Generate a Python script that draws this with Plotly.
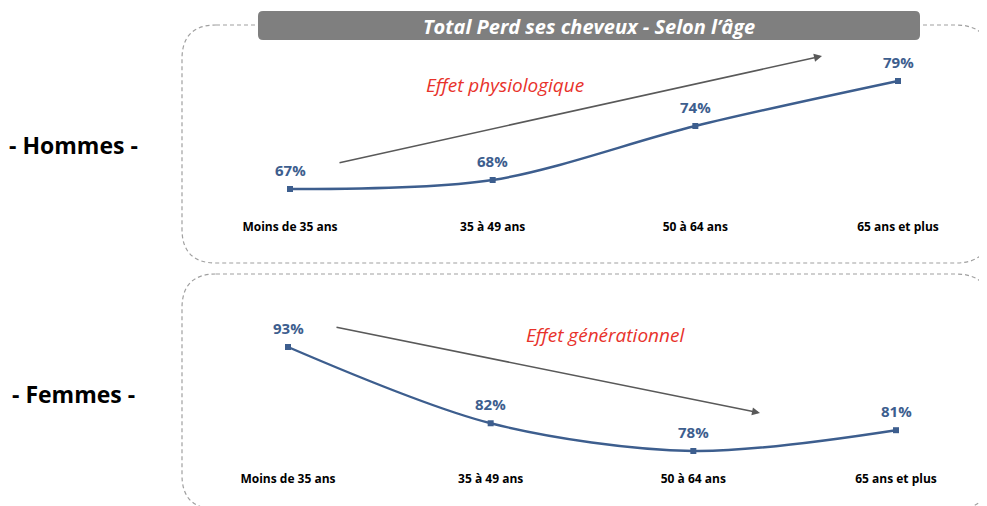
import plotly.graph_objects as go

# The page body adds an 8px offset, so the figure is sized to fit inside the window
OFF = 8
W, H = 987 - OFF, 506 - OFF

categories = ["Moins de 35 ans", "35 à 49 ans", "50 à 64 ans", "65 ans et plus"]
hommes = [67, 68, 74, 79]
femmes = [93, 82, 78, 81]
hommes_labels = ["67%", "68%", "74%", "79%"]
femmes_labels = ["93%", "82%", "78%", "81%"]

title_text = "Total Perd ses cheveux - Selon l’âge"
row_labels = ["- Hommes -", "- Femmes -"]
effect_labels = ["Effet physiologique", "Effet générationnel"]

BLUE = "#3D5E8E"
RED = "#E8322B"
DASH = "#A0A0A0"


def px(x):
    return (x - OFF) / W


def py(y):
    return 1 - (y - OFF) / H


def rounded_path(x0, y0, x1, y1, r):
    pts = [
        ("M", [(x0 + r, y0)]),
        ("L", [(x1 - r, y0)]),
        ("Q", [(x1, y0), (x1, y0 + r)]),
        ("L", [(x1, y1 - r)]),
        ("Q", [(x1, y1), (x1 - r, y1)]),
        ("L", [(x0 + r, y1)]),
        ("Q", [(x0, y1), (x0, y1 - r)]),
        ("L", [(x0, y0 + r)]),
        ("Q", [(x0, y0), (x0 + r, y0)]),
    ]
    s = ""
    for cmd, ps in pts:
        s += cmd + " " + " ".join(f"{px(a):.5f},{py(b):.5f}" for a, b in ps) + " "
    return s + "Z"


fig = go.Figure()

for xa, ya, vals in (("x", "y", hommes), ("x2", "y2", femmes)):
    fig.add_trace(go.Scatter(
        x=categories, y=vals, mode="lines+markers", xaxis=xa, yaxis=ya,
        line=dict(color=BLUE, width=2.4, shape="spline", smoothing=0.9),
        marker=dict(symbol="square", size=6, color=BLUE),
        hoverinfo="skip", showlegend=False, cliponaxis=False,
    ))

annotations = []
lab_font = dict(family="Open Sans", size=15, color=BLUE, weight="bold")
for c, v, t in zip(categories, hommes, hommes_labels):
    annotations.append(dict(x=c, y=v, xref="x", yref="y", text=t, showarrow=False,
                            xanchor="center", yanchor="middle", yshift=19, font=lab_font))
for c, v, t in zip(categories, femmes, femmes_labels):
    annotations.append(dict(x=c, y=v, xref="x2", yref="y2", text=t, showarrow=False,
                            xanchor="center", yanchor="middle", yshift=19, font=lab_font))


def paper_text(x, y, text, font):
    return dict(x=px(x), y=py(y), xref="paper", yref="paper", text=text, showarrow=False,
                xanchor="center", yanchor="middle", font=font)


annotations.append(paper_text(589, 26, title_text,
                              dict(family="Open Sans", size=20, color="white", weight="bold", style="italic")))
annotations.append(paper_text(73, 145, row_labels[0],
                              dict(family="Open Sans", size=23, color="black", weight="bold")))
annotations.append(paper_text(73, 394, row_labels[1],
                              dict(family="Open Sans", size=23, color="black", weight="bold")))
annotations.append(paper_text(505, 85, effect_labels[0],
                              dict(family="Open Sans", size=19, color=RED, style="italic")))
annotations.append(paper_text(605, 335, effect_labels[1],
                              dict(family="Open Sans", size=19, color=RED, style="italic")))

# trend arrows
annotations.append(dict(x=px(822), y=py(56), xref="paper", yref="paper", ax=338 - 822, ay=163 - 56,
                        text="", showarrow=True, arrowhead=2, arrowsize=1, arrowwidth=1.6,
                        arrowcolor="#595959"))
annotations.append(dict(x=px(760), y=py(413), xref="paper", yref="paper", ax=335 - 760, ay=327 - 413,
                        text="", showarrow=True, arrowhead=2, arrowsize=1, arrowwidth=1.6,
                        arrowcolor="#595959"))

shapes = [
    dict(type="path", xref="paper", yref="paper", path=rounded_path(182, 25, 990, 263, 34),
         line=dict(color=DASH, width=1.2, dash="4px,3px"), layer="below"),
    dict(type="path", xref="paper", yref="paper", path=rounded_path(182, 274, 990, 509, 34),
         line=dict(color=DASH, width=1.2, dash="4px,3px"), layer="below"),
    dict(type="path", xref="paper", yref="paper", path=rounded_path(258, 11, 920, 40, 5),
         line=dict(width=0), fillcolor="#7F7F7F", layer="below"),
]

axis_common = dict(showgrid=False, zeroline=False, showline=False, ticks="",
                   tickfont=dict(family="Open Sans", size=12, color="black", weight="bold"),
                   fixedrange=True)

fig.update_layout(
    width=W, height=H, autosize=False,
    margin=dict(l=0, r=0, t=0, b=0),
    paper_bgcolor="white", plot_bgcolor="rgba(0,0,0,0)",
    xaxis=dict(domain=[px(229.2), px(958.8)], range=[-0.3, 3.3], anchor="y", **axis_common),
    yaxis=dict(domain=[py(218), py(50)], range=[67 - (218 - 189) / 9, 79 + (81 - 50) / 9],
               showticklabels=False, showgrid=False, zeroline=False, showline=False, anchor="x"),
    xaxis2=dict(domain=[px(227.2), px(956.8)], range=[-0.3, 3.3], anchor="y2", **axis_common),
    yaxis2=dict(domain=[py(470), py(300)], range=[78 - (470 - 451) / 6.93, 93 + (347 - 300) / 6.93],
                showticklabels=False, showgrid=False, zeroline=False, showline=False, anchor="x2"),
    annotations=annotations,
    shapes=shapes,
)

fig.write_html("out.html")
